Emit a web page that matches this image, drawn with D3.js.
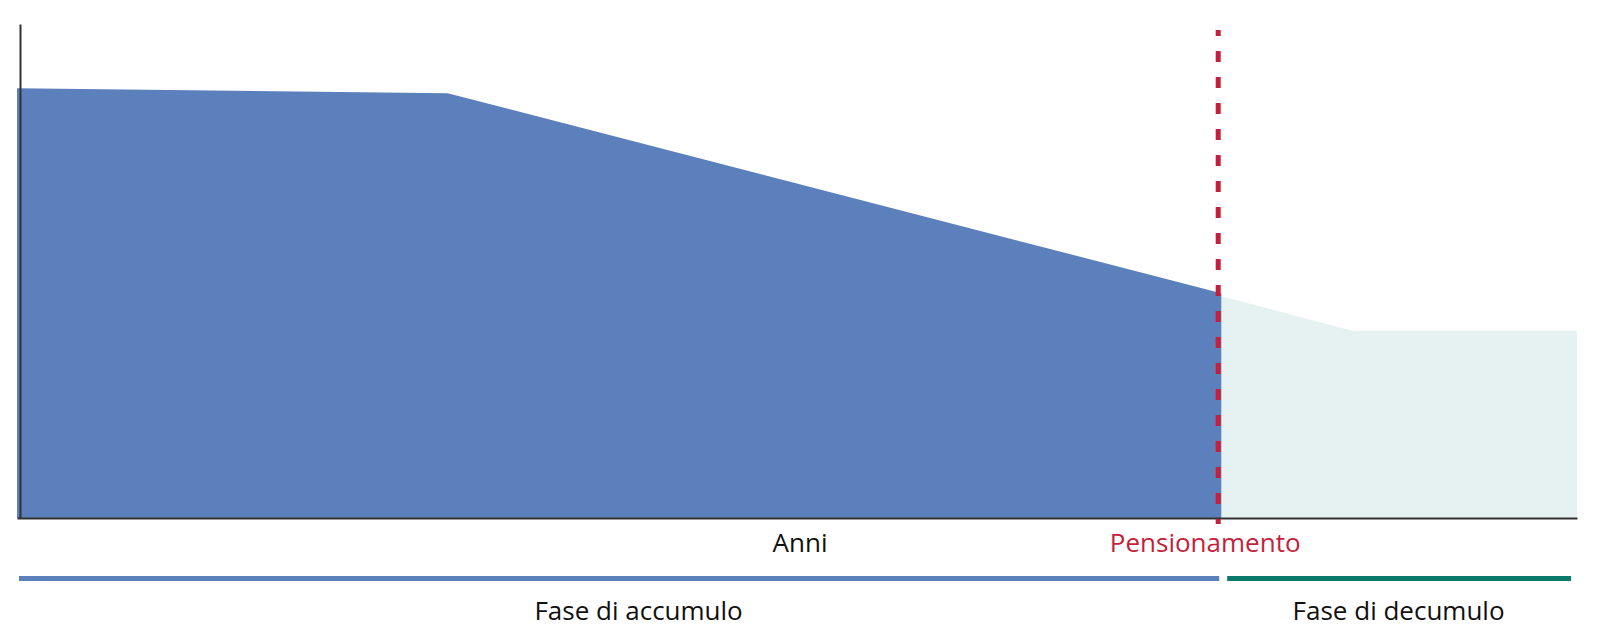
<!DOCTYPE html>
<html>
<head>
<meta charset="utf-8">
<script src="https://cdn.jsdelivr.net/npm/d3@7"></script>
<style>
  body { margin: 0; background: #fff; }
  text { font-family: "Open Sans", "Noto Sans", sans-serif; }
</style>
</head>
<body>
<script>
// accumulation phase (blue) and decumulation phase (light) outlines
var accYears = [0, 27.6, 77.2];
var accValues = [87, 86, 45.5];
var decYears = [77.2, 85.6, 100];
var decValues = [44.9, 37.9, 37.9];
var retirementYear = 77.0;
var phaseNames = ["Fase di accumulo", "Fase di decumulo"];
var axisLabel = "Anni";
var retirementLabel = "Pensionamento";

var svgW = 1600, svgH = 640;

var svg = d3.select("body").append("svg")
  .attr("width", svgW)
  .attr("height", svgH);

var x = d3.scaleLinear().domain([0, 100]).range([17, 1577]);
var y = d3.scaleLinear().domain([0, 100]).range([518, 24]);

var acc = accYears.map(function (d, i) { return { x: d, y: accValues[i] }; });
var dec = decYears.map(function (d, i) { return { x: d, y: decValues[i] }; });

var area = d3.area()
  .x(function (d) { return x(d.x); })
  .y0(y(0))
  .y1(function (d) { return y(d.y); });

svg.append("path").datum(dec)
  .attr("d", area)
  .attr("fill", "#e6f2f1");

svg.append("path").datum(acc)
  .attr("d", area)
  .attr("fill", "#5b80bb");

// axes, no ticks
svg.append("g")
  .attr("transform", "translate(20,0)")
  .call(d3.axisLeft(y).tickValues([]).tickSize(0).tickSizeOuter(0))
  .select(".domain").attr("stroke", "#333").attr("stroke-width", 2);

svg.append("g")
  .attr("transform", "translate(0," + y(0) + ")")
  .call(d3.axisBottom(x).tickValues([]).tickSize(0).tickSizeOuter(0))
  .select(".domain").attr("stroke", "#333").attr("stroke-width", 2);

// retirement marker
svg.append("line")
  .attr("x1", x(retirementYear)).attr("x2", x(retirementYear))
  .attr("y1", 30).attr("y2", 524)
  .attr("stroke", "#c41f3b")
  .attr("stroke-width", 5)
  .attr("stroke-dasharray", "11,15")
  .attr("stroke-dashoffset", 5);

svg.append("text")
  .attr("x", 800).attr("y", 552)
  .attr("text-anchor", "middle")
  .attr("font-size", 26)
  .attr("fill", "#111")
  .text(axisLabel);

svg.append("text")
  .attr("x", x(retirementYear) - 13).attr("y", 552)
  .attr("text-anchor", "middle")
  .attr("font-size", 26)
  .attr("fill", "#c41f3b")
  .text(retirementLabel);

// phase bars under the chart
var phases = [
  { name: phaseNames[0], from: 0, to: retirementYear, color: "#5b80bb" },
  { name: phaseNames[1], from: retirementYear, to: 100, color: "#0b7a6b" }
];

svg.selectAll(".phase").data(phases).enter()
  .append("line")
  .attr("class", "phase")
  .attr("x1", function (d, i) { return x(d.from) + (i === 0 ? 2 : 9); })
  .attr("x2", function (d, i) { return x(d.to) - (i === 0 ? -1 : 6); })
  .attr("y1", 578.5).attr("y2", 578.5)
  .attr("stroke", function (d) { return d.color; })
  .attr("stroke-width", 5);

svg.selectAll(".phaseLabel").data(phases).enter()
  .append("text")
  .attr("class", "phaseLabel")
  .attr("x", function (d, i) { return (x(d.from) + x(d.to)) / 2 + (i === 0 ? 21 : 1); })
  .attr("y", 620)
  .attr("text-anchor", "middle")
  .attr("font-size", 26)
  .attr("fill", "#111")
  .text(function (d) { return d.name; });
</script>
</body>
</html>
